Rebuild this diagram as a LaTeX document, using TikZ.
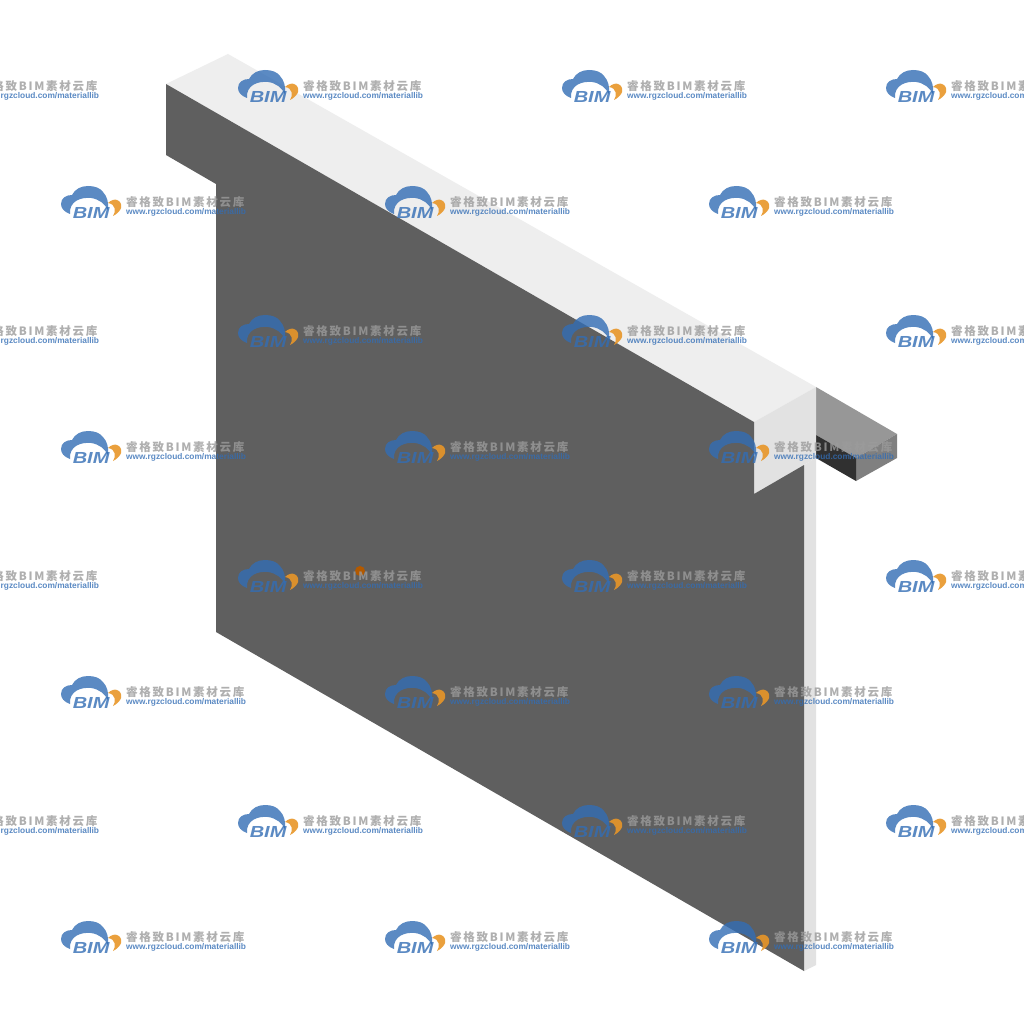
\documentclass[tikz,border=0pt]{standalone}
\usepackage{fontspec}
\usepackage{xcolor}
\setsansfont{Liberation Sans}
\newfontfamily\cjkfont[LetterSpace=15]{Noto Sans CJK SC}
\definecolor{wallfront}{HTML}{5F5F5F}
\definecolor{walltop}{HTML}{EEEEEE}
\definecolor{wallend}{HTML}{E2E2E2}
\definecolor{stubtop}{HTML}{979797}
\definecolor{stubside}{HTML}{808080}
\definecolor{stubdark}{HTML}{303030}
\definecolor{markblue}{RGB}{50,109,181}
\definecolor{markorange}{RGB}{232,150,40}
\definecolor{markgray}{RGB}{155,155,155}
\tikzset{
  markname/.style={anchor=west,inner sep=0pt,text=markgray,text opacity=0.8,font=\cjkfont\bfseries\fontsize{11.5}{11.5}\selectfont},
  markurl/.style={anchor=west,inner sep=0pt,text=markblue,text opacity=0.8,font=\sffamily\bfseries\fontsize{8.35}{8.35}\selectfont},
  markbim/.style={anchor=west,inner sep=0pt,text=markblue,text opacity=0.8,xscale=1.25,font=\sffamily\bfseries\itshape\fontsize{16}{16}\selectfont},
}
\newcommand{\wmark}[3]{%
  \begin{scope}[shift={(#1,#2)}]
    \fill[markblue,opacity=0.8] (9,28) .. controls (3,26) and (0,22) .. (0,18)
      .. controls (0,12) and (5,9) .. (11,9)
      .. controls (14,3) and (20,0) .. (27,0)
      .. controls (34,0) and (39,2) .. (42,6)
      .. controls (46,10) and (48,17) .. (47,24)
      .. controls (44,18) and (38,13) .. (30,12)
      .. controls (20,11) and (8,15) .. (9,28) -- cycle;
    \fill[markorange,opacity=0.9] (47,17) .. controls (50,14) and (54,13) .. (56,14)
      .. controls (59,15) and (61,18) .. (60,22)
      .. controls (59,25) and (56,28) .. (52,30)
      .. controls (55,26) and (55,18) .. (47,17) -- cycle;
    \node[markbim] (bim#3) at (11.5,26.5) {BIM};
    \node[markname] (name#3) at (65,16.5) {睿格致BIM素材云库};
    \node[markurl] (url#3) at (65,26.2) {www.rgzcloud.com/materiallib};
  \end{scope}
}

\begin{document}
\begin{tikzpicture}[x=1pt,y=-1pt]
    \useasboundingbox (0,0) rectangle (1024,1024);
    \fill[white] (0,0) rectangle (1024,1024);

    % Stub behind the wall
    \fill[stubtop] (816,387) -- (897,434) -- (856,458) -- (816,435) -- cycle;
    \fill[stubside] (856,458) -- (897,434) -- (897,458) -- (856,481) -- cycle;
    \fill[stubdark] (816,435) -- (856,458) -- (856,481) -- (816,458) -- cycle;

    % Wall
    \fill[walltop] (166,84) -- (228,54) -- (816,387) -- (754,422) -- cycle;
    \fill[wallend] (754,422) -- (816,387) -- (816,458) -- (804,465) -- (754,494) -- cycle;
    \fill[wallend] (804,465) -- (816,458) -- (816,965) -- (804,971) -- cycle;
    \fill[wallfront] (166,84) -- (754,422) -- (754,494) -- (804,465) -- (804,971)
      -- (216,632) -- (216,184) -- (166,155) -- cycle;

    % Dot on the wall
    \fill[orange!70!black] (360,571) circle (5);

    % Watermark
    \foreach \y [count=\r] in {70,315,560,805}
      \foreach \x [count=\c] in {-86,238,562,886}
        \wmark{\x}{\y}{a\r\c};
    \foreach \y [count=\r] in {186,431,676,921}
      \foreach \x [count=\c] in {61,385,709}
        \wmark{\x}{\y}{b\r\c};
\end{tikzpicture}
\end{document}
